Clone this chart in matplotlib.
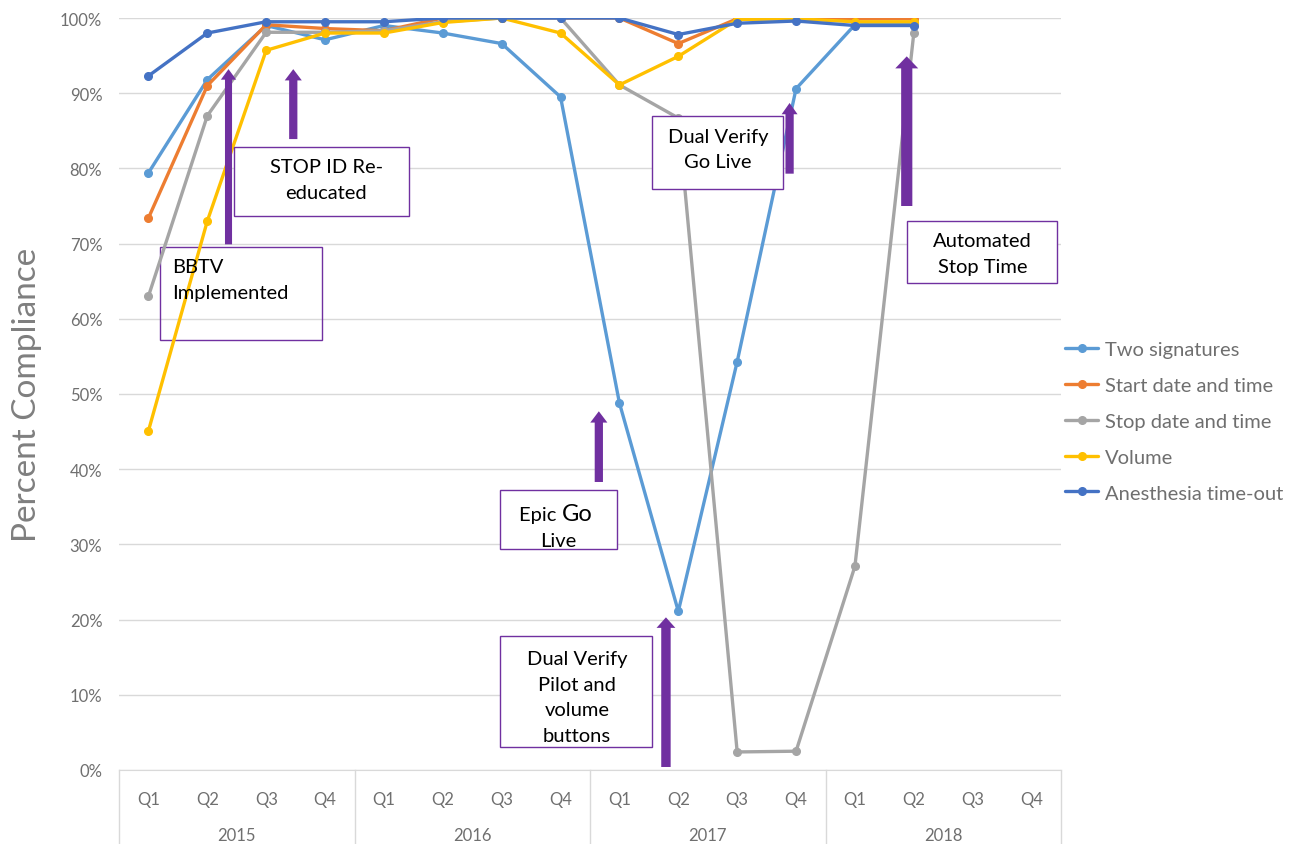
import matplotlib
matplotlib.use("Agg")
import matplotlib.pyplot as plt
from matplotlib.patches import Rectangle, FancyArrow

plt.rcParams['font.family'] = ['Lato', 'DejaVu Sans']

years = ['2015', '2016', '2017', '2018']
quarters = ['Q1', 'Q2', 'Q3', 'Q4']

# quarterly compliance (%), 2015 Q1 .. 2018 Q2
two_signatures = [79.4, 91.8, 99.0, 97.1, 99.0, 98.0, 96.6, 89.5,
                  48.8, 21.1, 54.3, 90.6, 99.1, 99.4]
start_date_time = [73.4, 91.0, 99.1, 98.6, 98.3, 100, 100, 100,
                   100, 96.6, 99.9, 100, 99.9, 99.9]
stop_date_time = [63.0, 87.0, 98.1, 98.1, 98.3, 99.5, 100, 100,
                  91.1, 86.7, 2.4, 2.5, 27.1, 98.0]
volume = [45.1, 73.0, 95.7, 98.0, 98.0, 99.4, 100, 98.0,
          91.1, 94.9, 99.8, 99.9, 99.5, 99.5]
anesthesia_timeout = [92.3, 98.0, 99.5, 99.5, 99.5, 100, 100, 100,
                      100, 97.8, 99.3, 99.6, 99.0, 99.0]

series = [
    ('Two signatures', two_signatures, '#5B9BD5'),
    ('Start date and time', start_date_time, '#ED7D31'),
    ('Stop date and time', stop_date_time, '#A5A5A5'),
    ('Volume', volume, '#FFC000'),
    ('Anesthesia time-out', anesthesia_timeout, '#4472C4'),
]

# event notes: (text, box x0, x1, y0, y1, text x, text y, align)
notes = [
    ('BBTV\nImplemented', 0.20, 2.94, 57.2, 69.5, 0.41, 65.2, 'left'),
    ('STOP ID Re-\neducated', 1.46, 4.43, 73.7, 82.8, 3.02, 78.5, 'center'),
    ('Dual Verify\nPilot and\nvolume\nbuttons', 5.97, 8.55, 3.1, 17.8, 7.28, 9.7, 'center'),
    ('Dual Verify\nGo Live', 8.55, 10.78, 77.3, 87.0, 9.67, 82.6, 'center'),
    ('Automated\nStop Time', 12.88, 15.44, 64.8, 73.0, 14.17, 68.7, 'center'),
]
# arrows: (x, base, tip, shaft width, head width, head length)
arrows = [
    (1.36, 69.9, 93.2, 0.12, 0.26, 1.4),
    (2.46, 83.9, 93.2, 0.14, 0.29, 1.5),
    (7.65, 38.3, 47.7, 0.14, 0.29, 1.5),
    (8.79, 0.4, 20.3, 0.16, 0.32, 1.4),
    (10.89, 79.3, 88.7, 0.14, 0.27, 1.5),
    (12.88, 75.0, 94.9, 0.19, 0.39, 1.6),
]

purple = '#7030A0'
grey_txt = '#6F6F6F'

fig = plt.figure(figsize=(12.97, 8.45), dpi=100)
ax = fig.add_axes([119 / 1297, 1 - 771 / 845, 942 / 1297, 752 / 845])

n = len(years) * len(quarters)
for name, vals, col in series:
    ax.plot(range(len(vals)), vals, color=col, lw=2.4, marker='o', ms=5.5,
            label=name, zorder=3, solid_capstyle='round')

ax.set_xlim(-0.5, n - 0.5)
ax.set_ylim(0, 100)
ax.set_yticks(range(0, 101, 10))
ax.set_yticklabels([f'{v}%' for v in range(0, 101, 10)])
ax.grid(axis='y', color='#D9D9D9', lw=1)
ax.set_axisbelow(True)
for s in ['left', 'right', 'top']:
    ax.spines[s].set_visible(False)
ax.spines['bottom'].set_color('#D9D9D9')
ax.tick_params(axis='y', length=0, labelsize=12, labelcolor=grey_txt, pad=12)
ax.set_xticks(range(n))
ax.set_xticklabels(quarters * len(years))
ax.tick_params(axis='x', length=0, labelsize=12, labelcolor=grey_txt, pad=15)

# year labels and separators under the quarter ticks
for i, yr in enumerate(years):
    ax.text(i * 4 + 1.5, -8.6, yr, ha='center', va='center', fontsize=12,
            color=grey_txt, clip_on=False)
for i in range(len(years) + 1):
    ax.plot([i * 4 - 0.5] * 2, [0, -10], color='#D9D9D9', lw=1,
            clip_on=False)

ax.set_ylabel('Percent Compliance', fontsize=24, color='#7F7F7F', labelpad=13)

for txt, x0, x1, y0, y1, tx, ty, ha in notes:
    filled = ha == 'center'
    ax.add_patch(Rectangle((x0, y0), x1 - x0, y1 - y0, facecolor='white',
                           fill=filled, edgecolor=purple, lw=1,
                           zorder=4 if filled else 2))
    ax.text(tx, ty, txt, ha=ha, va='center', fontsize=14.5, color='black',
            linespacing=1.6, zorder=5, multialignment=ha)

# Epic note with the larger "Go"
ax.add_patch(Rectangle((5.97, 29.4), 7.96 - 5.97, 37.2 - 29.4, facecolor='white',
                       edgecolor=purple, lw=1, zorder=4))
ax.text(7.02, 34.0, 'Epic ', ha='right', va='center', fontsize=14.5, zorder=5)
ax.text(7.02, 34.1, 'Go', ha='left', va='center', fontsize=17, zorder=5)
ax.text(6.96, 30.5, 'Live', ha='center', va='center', fontsize=14.5, zorder=5)

for x, base, tip, w, hw, hl in arrows:
    ax.add_patch(FancyArrow(x, base, 0, tip - base, width=w, head_width=hw,
                            head_length=hl, length_includes_head=True,
                            color=purple, lw=0, zorder=6, clip_on=False))

fig.legend(loc='upper left', bbox_to_anchor=(1047 / 1297, 1 - 324 / 845),
           frameon=False, fontsize=14.5, labelcolor=grey_txt,
           handlelength=1.65, handletextpad=0.35, labelspacing=0.93)

fig.savefig('out.png', dpi=100)
